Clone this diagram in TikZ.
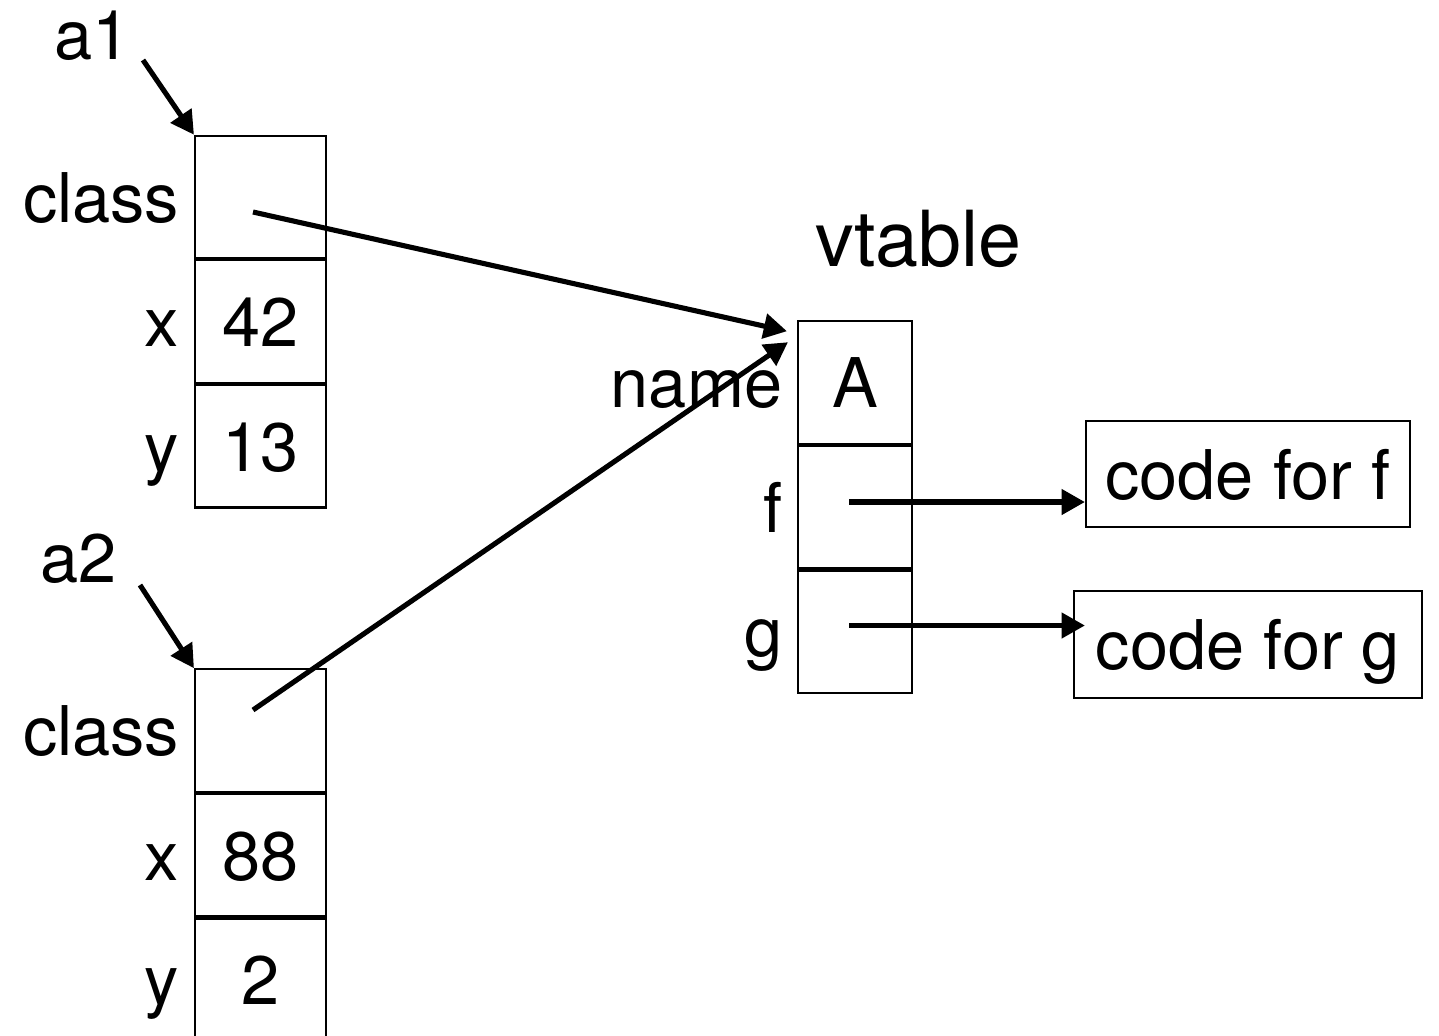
\documentclass[tikz,border=0pt]{standalone}
\usepackage{fontspec}
\setmainfont{TeX Gyre Heros}
\usetikzlibrary{positioning, arrows.meta, calc}

\tikzset{
  cell/.style={draw, line width=0.6pt, minimum width=1.31cm, minimum height=1.225cm,
    inner sep=0pt, text height=0.5cm, text depth=0pt},
  vcell/.style={cell, minimum width=1.14cm},
  field/.style={inner sep=0pt, text height=0.5cm, text depth=0pt},
  codebox/.style={draw, line width=0.6pt, minimum height=1.065cm, inner sep=0pt,
    text height=0.5cm, text depth=0pt},
  ptr/.style={line width=1.45pt, -{Triangle[length=6.6pt,width=7pt]}},
}

\begin{document}
\begin{tikzpicture}[font=\fontsize{19.5}{23}\selectfont]
    \useasboundingbox (0,0) rectangle (14.39,-10.35);

    % object a1
    \node[field] (a1) at (0.925,-0.34) {a1};
    \node[cell] (a1class) at (2.605,-1.97) {};
    \node[cell, below=0pt of a1class] (a1x) {42};
    \node[cell, below=0pt of a1x] (a1y) {13};
    \node[field, left=0.14cm of a1class] (a1classlbl) {class};
    \node[field, left=0.14cm of a1x] (a1xlbl) {x};
    \node[field, left=0.14cm of a1y] (a1ylbl) {y};
    \coordinate (a1tail) at (1.43,-0.60);
    \draw[ptr] (a1tail) -- (a1class.north west);

    % object a2
    \node[field] (a2) at (0.785,-5.57) {a2};
    \node[cell] (a2class) at (2.605,-7.305) {};
    \node[cell, below=0pt of a2class] (a2x) {88};
    \node[cell, below=0pt of a2x] (a2y) {2};
    \node[field, left=0.14cm of a2class] (a2classlbl) {class};
    \node[field, left=0.14cm of a2x] (a2xlbl) {x};
    \node[field, left=0.14cm of a2y] (a2ylbl) {y};
    \coordinate (a2tail) at (1.40,-5.85);
    \draw[ptr] (a2tail) -- (a2class.north west);

    % the vtable
    \node[anchor=base, font=\fontsize{22}{26}\selectfont] (vtable) at (9.185,-2.665) {vtable};
    \node[vcell] (vname) at (8.55,-3.825) {A};
    \node[vcell, below=0pt of vname] (vf) {};
    \node[vcell, below=0pt of vf] (vg) {};
    \node[field, left=0.14cm of vname] (vnamelbl) {name};
    \node[field, left=0.14cm of vf] (vflbl) {f};
    \node[field, left=0.14cm of vg] (vglbl) {g};

    % class pointers
    \coordinate (p1) at (2.53,-2.12);
    \coordinate (p2) at (2.53,-7.10);
    \draw[ptr] (p1) -- ($(vname.north west)+(-0.10,-0.11)$);
    \draw[ptr] (p2) -- ($(vname.north west)+(-0.09,-0.22)$);

    % method code
    \node[codebox, minimum width=3.24cm] (cf) at (12.48,-4.74) {code for f};
    \node[codebox, minimum width=3.48cm] (cg) at (12.48,-6.445) {code for g};
    \coordinate (ft) at (8.49,-5.02);
    \coordinate (gt) at (8.49,-6.255);
    \draw[ptr] (ft) -- (ft -| cf.west);
    \draw[ptr] (gt) -- (gt -| cf.west);

\end{tikzpicture}
\end{document}
